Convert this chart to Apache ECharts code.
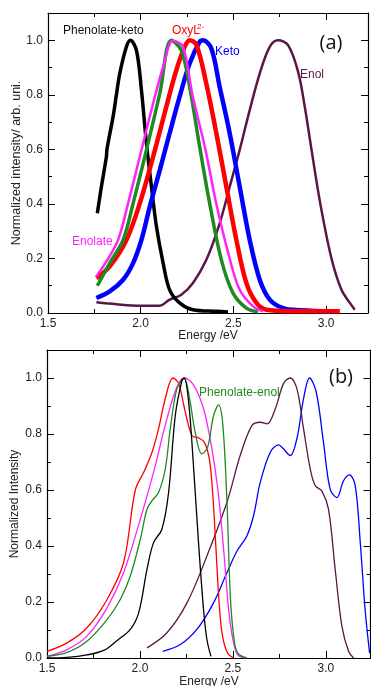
<!DOCTYPE html>
<html>
<head>
<meta charset="utf-8">
<script src="https://cdn.jsdelivr.net/npm/echarts@6/dist/echarts.min.js"></script>
<style>
  html, body { margin: 0; padding: 0; background: #fff; }
  #chart { width: 371px; height: 686px; }
</style>
</head>
<body>
<div id="chart"></div>
<script>
const xTickLabels = [1.5, 2.0, 2.5, 3.0];
const yTickLabels = [0, 0.2, 0.4, 0.6, 0.8, 1.0];

// panel (a): [energy eV, normalized intensity]
const phenolateKetoA = [[1.766,0.366],[1.788,0.463],[1.815,0.573],[1.818,0.600],[1.851,0.720],[1.869,0.800],[1.887,0.878],[1.923,0.976],[1.944,1.000],[1.977,0.963],[2.004,0.817],[2.031,0.622],[2.058,0.463],[2.085,0.317],[2.121,0.183],[2.156,0.085],[2.210,0.037],[2.282,0.012],[2.408,0.006],[2.471,0.004]];
const enolateA = [[1.761,0.134],[1.815,0.189],[1.878,0.268],[1.932,0.402],[1.995,0.573],[2.067,0.768],[2.121,0.902],[2.174,0.998],[2.228,0.976],[2.279,0.800],[2.349,0.600],[2.408,0.400],[2.480,0.200],[2.534,0.085],[2.606,0.024],[2.660,0.006]];
const phenolateA = [[1.766,0.100],[1.833,0.183],[1.905,0.268],[1.959,0.402],[2.031,0.598],[2.103,0.805],[2.165,1.000],[2.219,0.963],[2.264,0.829],[2.318,0.610],[2.372,0.402],[2.435,0.195],[2.498,0.073],[2.570,0.018],[2.633,0.004]];
const oxyL2A = [[1.761,0.128],[1.833,0.171],[1.923,0.268],[1.995,0.402],[2.067,0.573],[2.138,0.756],[2.192,0.890],[2.237,0.976],[2.264,1.000],[2.300,0.984],[2.354,0.841],[2.408,0.659],[2.462,0.463],[2.516,0.268],[2.570,0.110],[2.624,0.037],[2.678,0.012],[2.858,0.006],[3.074,0.006]];
const ketoA = [[1.761,0.055],[1.833,0.079],[1.905,0.122],[1.959,0.183],[2.004,0.268],[2.049,0.390],[2.103,0.524],[2.156,0.659],[2.210,0.793],[2.264,0.915],[2.318,0.994],[2.336,1.000],[2.381,0.970],[2.426,0.829],[2.480,0.659],[2.534,0.463],[2.588,0.268],[2.642,0.122],[2.696,0.049],[2.768,0.018],[2.858,0.010],[3.047,0.006]];
const enolA = [[1.761,0.039],[1.869,0.032],[1.995,0.027],[2.103,0.027],[2.156,0.049],[2.219,0.067],[2.282,0.110],[2.354,0.195],[2.426,0.329],[2.480,0.463],[2.534,0.598],[2.588,0.744],[2.642,0.878],[2.696,0.976],[2.741,1.000],[2.795,0.982],[2.849,0.884],[2.885,0.756],[2.921,0.600],[2.969,0.400],[3.029,0.200],[3.083,0.085],[3.128,0.037],[3.155,0.012]];

// panel (b)
const oxyL2B = [[1.500,0.024],[1.608,0.054],[1.715,0.108],[1.823,0.209],[1.912,0.341],[1.975,0.600],[2.020,0.663],[2.065,0.735],[2.100,0.818],[2.136,0.926],[2.177,1.000],[2.208,0.980],[2.244,0.878],[2.280,0.794],[2.315,0.786],[2.346,0.771],[2.373,0.711],[2.391,0.591],[2.409,0.388],[2.427,0.185],[2.444,0.078],[2.471,0.018],[2.504,0.000]];
const enolateB = [[1.500,0.006],[1.608,0.030],[1.715,0.078],[1.823,0.179],[1.912,0.305],[2.002,0.496],[2.073,0.663],[2.145,0.854],[2.199,0.968],[2.238,1.000],[2.289,0.974],[2.342,0.890],[2.387,0.747],[2.423,0.579],[2.450,0.388],[2.477,0.173],[2.500,0.066],[2.525,0.012],[2.566,0.000]];
const phenolateEnolB = [[1.500,0.006],[1.608,0.020],[1.715,0.060],[1.823,0.137],[1.894,0.209],[1.948,0.293],[2.002,0.424],[2.038,0.532],[2.065,0.562],[2.100,0.591],[2.136,0.675],[2.163,0.818],[2.199,0.962],[2.238,0.998],[2.267,0.926],[2.297,0.806],[2.333,0.729],[2.364,0.753],[2.396,0.866],[2.423,0.904],[2.446,0.830],[2.468,0.556],[2.486,0.221],[2.504,0.078],[2.525,0.018],[2.575,0.000]];
const phenolateKetoB = [[1.500,0.000],[1.608,0.002],[1.715,0.011],[1.805,0.027],[1.876,0.062],[1.948,0.102],[1.993,0.161],[2.038,0.317],[2.073,0.412],[2.118,0.460],[2.154,0.591],[2.190,0.866],[2.226,0.992],[2.238,1.000],[2.262,0.914],[2.289,0.675],[2.315,0.412],[2.342,0.173],[2.360,0.066],[2.382,0.006]];
const enolB = [[2.038,0.036],[2.145,0.090],[2.253,0.197],[2.360,0.364],[2.468,0.556],[2.539,0.723],[2.602,0.830],[2.647,0.842],[2.683,0.836],[2.728,0.890],[2.772,0.980],[2.808,1.000],[2.844,0.962],[2.880,0.818],[2.916,0.675],[2.943,0.615],[2.978,0.597],[3.014,0.532],[3.050,0.317],[3.086,0.114],[3.122,0.024],[3.149,0.000]];
const ketoB = [[2.122,0.024],[2.217,0.048],[2.306,0.102],[2.396,0.197],[2.468,0.305],[2.522,0.382],[2.575,0.436],[2.611,0.508],[2.647,0.627],[2.701,0.735],[2.746,0.761],[2.772,0.747],[2.808,0.723],[2.844,0.783],[2.880,0.926],[2.912,1.000],[2.948,0.950],[2.987,0.771],[3.023,0.603],[3.059,0.573],[3.095,0.633],[3.127,0.654],[3.158,0.615],[3.185,0.412],[3.211,0.173],[3.235,0.018]];

const BLACK = '#000000', RED = '#ff0000', GREEN = '#1f8a1f', MAGENTA = '#ff22ff', BLUE = '#0000ff', PURPLE = '#5a1646';
const font = '"Liberation Sans", Arial, sans-serif';
const near = (list, v) => list.some(t => Math.abs(t - v) < 1e-6);

const chart = echarts.init(document.getElementById('chart'));

const grids = [
  { left: 48, top: 13, width: 320, height: 300 },
  { left: 47, top: 350, width: 323.5, height: 308 },
];
const xMax = [3.226, 3.24];

const frameLine = { show: true, onZero: false, lineStyle: { color: '#000', width: 1.2 } };
const noLine = { show: false, onZero: false };
const shortTick = { show: true, inside: true, length: 4, lineStyle: { color: '#000', width: 1 } };
const longTick = { show: true, inside: true, length: 7, lineStyle: { color: '#000', width: 1 } };
const tickFont = { fontSize: 12, color: '#222', fontFamily: font };

function xAxes(g) {
  const base = { type: 'value', gridIndex: g, min: 1.5, max: xMax[g], splitLine: { show: false } };
  return [
    { ...base, position: 'bottom', interval: 0.25, axisLine: frameLine, axisTick: shortTick,
      axisLabel: { ...tickFont, margin: 5, showMaxLabel: false,
        formatter: v => near(xTickLabels, v) ? v.toFixed(1) : '' } },
    { ...base, position: 'bottom', interval: 0.5, axisLine: noLine, axisTick: longTick, axisLabel: { show: false } },
    { ...base, position: 'top', interval: 0.25, axisLine: frameLine, axisTick: shortTick, axisLabel: { show: false } },
    { ...base, position: 'top', interval: 0.5, axisLine: noLine, axisTick: longTick, axisLabel: { show: false } },
  ];
}

function yAxes(g) {
  const base = { type: 'value', gridIndex: g, min: 0, max: 1.1, splitLine: { show: false } };
  return [
    { ...base, position: 'left', interval: 0.1, axisLine: frameLine, axisTick: shortTick,
      axisLabel: { ...tickFont, margin: 5, showMaxLabel: false,
        formatter: v => near(yTickLabels, v) ? v.toFixed(1) : '' } },
    { ...base, position: 'left', interval: 0.2, axisLine: noLine, axisTick: longTick, axisLabel: { show: false } },
    { ...base, position: 'right', interval: 0.1, axisLine: frameLine, axisTick: shortTick, axisLabel: { show: false } },
    { ...base, position: 'right', interval: 0.2, axisLine: noLine, axisTick: longTick, axisLabel: { show: false } },
  ];
}

function curve(g, data, color, width) {
  return {
    type: 'line', xAxisIndex: g * 4, yAxisIndex: g * 4, data,
    showSymbol: false, smooth: 0.35, silent: true,
    lineStyle: { color, width },
  };
}

function label(text, x, y, color, extra) {
  return {
    type: 'text', x, y,
    style: { text, fill: color, font: '12px ' + font, textVerticalAlign: 'middle', ...extra },
  };
}

chart.setOption({
  animation: false,
  backgroundColor: '#fff',
  grid: grids,
  xAxis: [...xAxes(0), ...xAxes(1)],
  yAxis: [...yAxes(0), ...yAxes(1)],
  series: [
    curve(0, enolA, PURPLE, 2.5),
    curve(0, phenolateKetoA, BLACK, 3.5),
    curve(0, ketoA, BLUE, 4.5),
    curve(0, oxyL2A, RED, 4.5),
    curve(0, phenolateA, GREEN, 3.5),
    curve(0, enolateA, MAGENTA, 2.5),
    curve(1, ketoB, BLUE, 1.3),
    curve(1, enolB, PURPLE, 1.3),
    curve(1, oxyL2B, RED, 1.3),
    curve(1, enolateB, MAGENTA, 1.3),
    curve(1, phenolateEnolB, GREEN, 1.3),
    curve(1, phenolateKetoB, BLACK, 1.3),
  ],
  graphic: [
    label('Phenolate-keto', 63, 31, '#111'),
    label('OxyL', 172, 31, RED),
    { type: 'text', x: 197, y: 27, style: { text: '2-', fill: RED, font: '8px ' + font, textVerticalAlign: 'middle' } },
    label('Keto', 215, 52, BLUE),
    label('Enol', 300, 75, PURPLE),
    label('Enolate', 72, 242, MAGENTA),
    label('Phenolate-enol', 199, 393, GREEN),
    { type: 'text', x: 331, y: 43, style: { text: '(a)', fill: '#111', font: '20px "Open Sans", sans-serif', textAlign: 'center', textVerticalAlign: 'middle' } },
    { type: 'text', x: 341, y: 377, style: { text: '(b)', fill: '#111', font: '20px "Open Sans", sans-serif', textAlign: 'center', textVerticalAlign: 'middle' } },
    label('Energy /eV', 208, 336, '#222', { textAlign: 'center' }),
    label('Energy /eV', 209, 682, '#222', { textAlign: 'center' }),
    { type: 'text', x: 17, y: 163, rotation: Math.PI / 2,
      style: { text: 'Normalized intensity/ arb. uni.', fill: '#222', font: '12.5px ' + font, textAlign: 'center', textVerticalAlign: 'middle' } },
    { type: 'text', x: 15, y: 504, rotation: Math.PI / 2,
      style: { text: 'Normalized Intensity', fill: '#222', font: '12px ' + font, textAlign: 'center', textVerticalAlign: 'middle' } },
  ],
});
</script>
</body>
</html>
